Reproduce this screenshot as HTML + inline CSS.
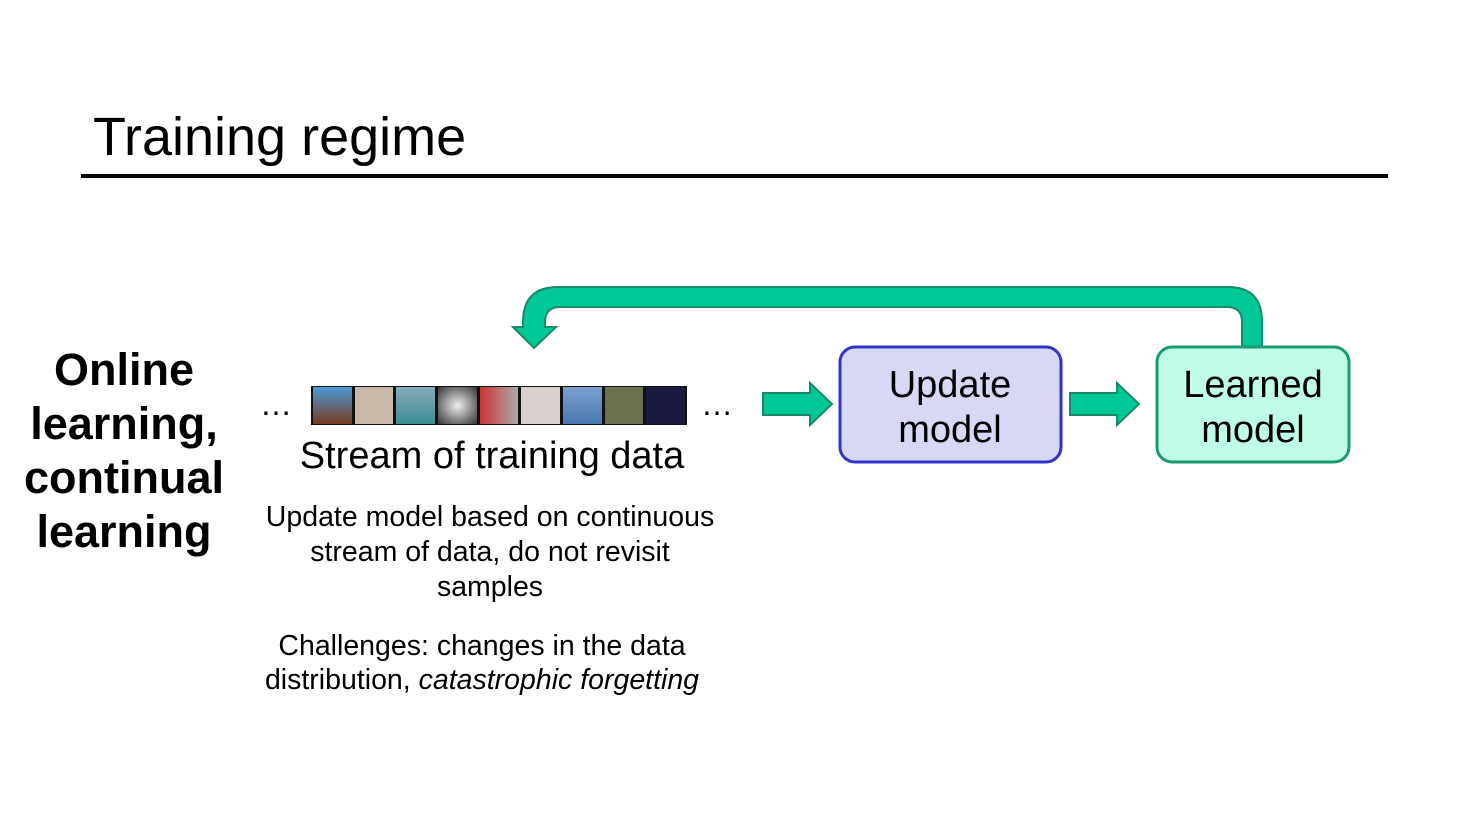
<!DOCTYPE html>
<html><head><style>
body{margin:0;width:1457px;height:824px;background:#fff;position:relative;font-family:"Liberation Sans",sans-serif;overflow:hidden}
.t{position:absolute;white-space:nowrap}
.c{text-align:center}
</style></head><body>
<div class="t" style="left:93px;top:106px;font-size:54px">Training regime</div>
<div style="position:absolute;left:81px;top:174px;width:1307px;height:4px;background:#000"></div>
<div class="t c" style="left:0;width:248px;top:343px;font-size:45px;font-weight:bold;line-height:54px">Online<br>learning,<br>continual<br>learning</div>
<div class="t" style="left:260px;top:386px;font-size:32px">…</div>
<div class="t" style="left:701px;top:386px;font-size:32px">…</div>
<div style="position:absolute;left:311px;top:386px;width:376px;height:39px;background:#111;display:flex;gap:3px;padding:1px 2px;box-sizing:border-box">
<div style="flex:1;background:linear-gradient(#4a9ad8,#7a3a22)"></div>
<div style="flex:1;background:#c8b8a8"></div>
<div style="flex:1;background:linear-gradient(#8ab,#3a8f90)"></div>
<div style="flex:1;background:radial-gradient(#eee,#333)"></div>
<div style="flex:1;background:linear-gradient(90deg,#c33,#aaa)"></div>
<div style="flex:1;background:#d8d0cc"></div>
<div style="flex:1;background:linear-gradient(#7aa0d0,#4a78b0)"></div>
<div style="flex:1;background:#6a7050"></div>
<div style="flex:1;background:#1a1a40"></div>
</div>
<div class="t c" style="left:272px;width:440px;top:435px;font-size:38px">Stream of training data</div>
<div class="t c" style="left:220px;width:540px;top:500px;font-size:28.5px;line-height:35px">Update model based on continuous<br>stream of data, do not revisit<br>samples</div>
<div class="t c" style="left:222px;width:520px;top:629px;font-size:28.5px;line-height:34px">Challenges: changes in the data<br>distribution, <i>catastrophic forgetting</i></div>
<svg style="position:absolute;left:0;top:0" width="1457" height="824">
<g fill="#00c896" stroke="#1a8a6a" stroke-width="2">
<path d="M1242,347 V322 Q1242,307 1227,307 H560 Q545,307 545,322 V327 H556 L534,348 L513,327 H523 V322 Q523,287 558,287 H1228 Q1262,287 1262,322 V347 Z"/>
<path d="M763,393 H810 V383 L832,404 L810,425 V415 H763 Z"/>
<path d="M1070,393 H1117 V383 L1139,404 L1117,425 V415 H1070 Z"/>
</g>
<rect x="840" y="347" width="221" height="115" rx="15" fill="#d6d8f4" stroke="#3333cc" stroke-width="3"/>
<rect x="1157" y="347" width="192" height="115" rx="15" fill="#c0fde8" stroke="#1a9a72" stroke-width="3"/>
<g font-size="38" text-anchor="middle" font-family="Liberation Sans">
<text x="950" y="397">Update</text>
<text x="950" y="442">model</text>
<text x="1253" y="397">Learned</text>
<text x="1253" y="442">model</text>
</g>
</svg>
</body></html>
